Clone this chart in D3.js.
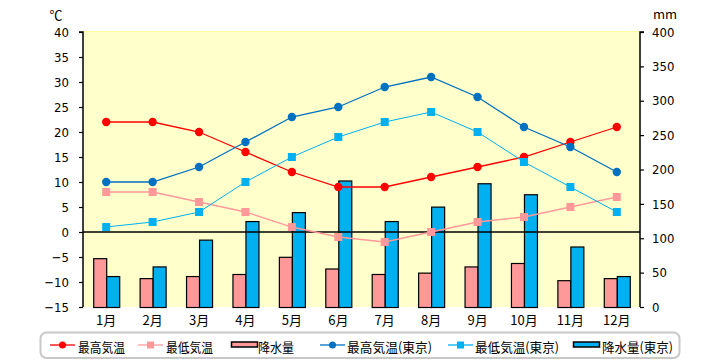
<!DOCTYPE html>
<html><head><meta charset="utf-8">
<script src="https://cdn.jsdelivr.net/npm/d3@7"></script>
<style>body{margin:0;background:#fff}svg{display:block}text{font-family:"Noto Sans CJK JP","Noto Sans",sans-serif}</style>
</head><body><svg id="c" width="720" height="360"></svg>
<script>
const months = ["1月","2月","3月","4月","5月","6月","7月","8月","9月","10月","11月","12月"];
const maxTemp = [22,22,20,16,12,9,9,11,13,15,18,21];
const minTemp = [8,8,6,4,1,-1,-2,0,2,3,5,7];
const precip = [71,42,45,48,73,56,48,50,59,64,39,42];
const maxTempTokyo = [10,10,13,18,23,25,29,31,27,21,17,12];
const minTempTokyo = [1,2,4,10,15,19,22,24,20,14,9,4];
const precipTokyo = [45,59,98,125,138,184,125,146,180,164,88,45];
const leftTicks = [40,35,30,25,20,15,10,5,0,-5,-10,-15];
const rightTicks = [400,350,300,250,200,150,100,50,0];

const svg = d3.select("#c");
const L = 83, R = 640, T = 32, B = 307;
const x = d3.scaleBand().domain(months).range([L, R]);
const xs = d3.scaleBand().domain(["a","b"]).range([0, 26]);
const yT = d3.scaleLinear().domain([-15, 40]).range([B, T]);
const yP = d3.scaleLinear().domain([0, 400]).range([B, T]);

svg.append("rect").attr("x", L).attr("y", T - 1).attr("width", R - L).attr("height", B - T + 1)
  .attr("fill", "#FFFFCC");
svg.append("line").attr("x1", L).attr("x2", R).attr("y1", T - 0.5).attr("y2", T - 0.5).attr("stroke", "#FFFF99");

// bars
const barData = [{k:"a", v:precip, c:"#FF9999"}, {k:"b", v:precipTokyo, c:"#00B0F0"}];
barData.forEach(s => {
  svg.append("g").selectAll("rect").data(s.v).join("rect")
    .attr("x", (d,i) => x(months[i]) + (x.bandwidth() - 26) / 2 + xs(s.k) + 0.5)
    .attr("y", d => yP(d) + 0.5)
    .attr("width", xs.bandwidth())
    .attr("height", d => B - yP(d))
    .attr("fill", s.c).attr("stroke", "#000").attr("stroke-width", 1.2);
});

// zero line
svg.append("line").attr("x1", L).attr("x2", R).attr("y1", yT(0)).attr("y2", yT(0))
  .attr("stroke", "#000").attr("stroke-width", 1.3);

// axes
const la = svg.append("g").attr("transform", `translate(${L},0)`)
  .call(d3.axisLeft(yT).tickValues(leftTicks).tickSize(4).tickPadding(10).tickFormat(d => d < 0 ? "\u2212" + (-d) : d));
const ra = svg.append("g").attr("transform", `translate(${R},0)`)
  .call(d3.axisRight(yP).tickValues(rightTicks).tickSize(4).tickPadding(8));
[la, ra].forEach(a => {
  a.select(".domain").attr("stroke", "#000").attr("stroke-width", 1.5);
  a.selectAll(".tick line").attr("stroke", "#000").attr("stroke-width", 1.2);
  a.selectAll(".tick text").attr("font-size", 13).attr("fill", "#000")
    .style("font-family", '"DejaVu Sans Condensed","DejaVu Sans",sans-serif');
});
la.select(".domain").attr("d", `M-4,${T}H0V${B}`);
ra.select(".domain").attr("d", `M4,${T}H0V${B}`);

// month labels
svg.append("g").selectAll("text").data(months).join("text")
  .attr("x", d => x(d) + x.bandwidth() / 2).attr("y", 325)
  .attr("text-anchor", "middle").attr("font-size", 13).text(d => d);

svg.append("text").attr("x", 56).attr("y", 20).attr("text-anchor", "middle").attr("font-size", 13).text("℃");
svg.append("text").attr("x", 665).attr("y", 19).attr("text-anchor", "middle").attr("font-size", 13).text("mm");

// lines
const cx = i => x(months[i]) + x.bandwidth() / 2;
const lineGen = d3.line().x((d,i) => cx(i)).y(d => yT(d));
const series = [
  {v: maxTemp, c: "#FF0000", m: "circle", w: 1.3},
  {v: minTemp, c: "#FF9999", m: "square", w: 1.3},
  {v: maxTempTokyo, c: "#0070C0", m: "circle", w: 1.3},
  {v: minTempTokyo, c: "#00B0F0", m: "square", w: 1.0},
];
series.forEach(s => {
  svg.append("path").datum(s.v).attr("d", lineGen).attr("fill", "none")
    .attr("stroke", s.c).attr("stroke-width", s.w);
  const g = svg.append("g");
  if (s.m === "circle") {
    g.selectAll("circle").data(s.v).join("circle")
      .attr("cx", (d,i) => cx(i)).attr("cy", d => yT(d)).attr("r", 4.2).attr("fill", s.c);
  } else {
    g.selectAll("rect").data(s.v).join("rect")
      .attr("x", (d,i) => cx(i) - 4).attr("y", d => yT(d) - 4).attr("width", 8).attr("height", 8).attr("fill", s.c);
  }
});

// legend
svg.append("rect").attr("x", 40.5).attr("y", 332.5).attr("width", 639).attr("height", 25.5)
  .attr("rx", 6).attr("fill", "#fff").attr("stroke", "#C8C8C8").attr("stroke-width", 2);
const legend = [
  {t:"最高気温", type:"line", c:"#FF0000", m:"circle", x:50, tx:78, tw:47},
  {t:"最低気温", type:"line", c:"#FF9999", m:"square", x:138, tx:166, tw:47},
  {t:"降水量", type:"bar", c:"#FF9999", x:231, tx:258, tw:36},
  {t:"最高気温(東京)", type:"line", c:"#0070C0", m:"circle", x:320, tx:347, tw:85},
  {t:"最低気温(東京)", type:"line", c:"#00B0F0", m:"square", x:448, tx:475, tw:84},
  {t:"降水量(東京)", type:"bar", c:"#00B0F0", x:573, tx:602, tw:71},
];
const ly = 347;
legend.forEach(l => {
  const g = svg.append("g");
  if (l.type === "line") {
    g.append("line").attr("x1", l.x).attr("x2", l.x + 25).attr("y1", ly - 2).attr("y2", ly - 2)
      .attr("stroke", l.c).attr("stroke-width", 1.3);
    if (l.m === "circle") g.append("circle").attr("cx", l.x + 12.5).attr("cy", ly - 2).attr("r", 3.5).attr("fill", l.c);
    else g.append("rect").attr("x", l.x + 9).attr("y", ly - 5.5).attr("width", 7).attr("height", 7).attr("fill", l.c);
  } else {
    g.append("rect").attr("x", l.x + 0.5).attr("y", ly - 5).attr("width", 26).attr("height", 5)
      .attr("fill", l.c).attr("stroke", "#000").attr("stroke-width", 1.5);
  }
  g.append("text").attr("x", l.tx).attr("y", ly + 5).attr("font-size", 13)
    .attr("textLength", l.tw).attr("lengthAdjust", "spacingAndGlyphs").text(l.t);
});
</script></body></html>
